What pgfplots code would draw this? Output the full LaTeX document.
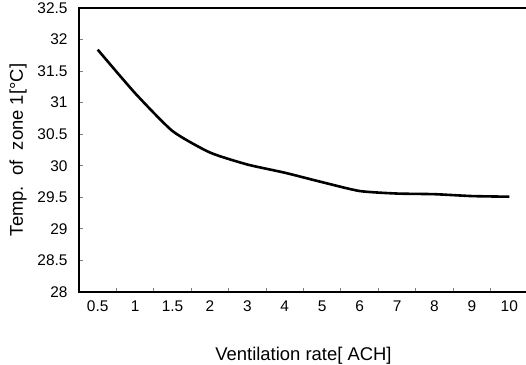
\documentclass[border=0pt]{standalone}
\usepackage{fontspec}
\setmainfont{Liberation Sans}
\usepackage{pgfplots}
\pgfplotsset{compat=1.18}
\begin{document}
\begin{tikzpicture}
\begin{axis}[
  name=ax,
  scale only axis,
  width=449bp, height=284bp,
  xmin=-0.5, xmax=11.5,
  ymin=28, ymax=32.5,
  axis line style={line width=1.4bp},
  tick align=inside,
  tick pos=left,
  xtick={0,...,11},
  xticklabels={0.5,1,1.5,2,3,4,5,6,7,8,9,10},
  major x tick style={draw=none},
  minor xtick={0.5,1.5,...,10.5},
  minor tick length=4bp,
  minor x tick style={line width=1bp},
  ytick={28,28.5,...,32.5},
  yticklabels={28,28.5,29,29.5,30,30.5,31,31.5,32,32.5},
  major tick length=4bp,
  major y tick style={line width=1bp},
  ticklabel style={font=\fontsize{15.5}{17}\selectfont},
  yticklabel style={xshift=-8bp},
  xticklabel style={yshift=-5bp},
  xlabel={Ventilation rate[ ACH]},
  ylabel={Temp.\ \ of\ \ zone 1[°C]},
  every axis x label/.style={at={(axis description cs:0.5,0)}, anchor=center, yshift=-64bp, font=\fontsize{18.5}{21}\selectfont},
  every axis y label/.style={at={(axis description cs:0,0.5)}, anchor=center, xshift=-61bp, rotate=90, font=\fontsize{18.5}{21}\selectfont},
]
\addplot[black, line width=2.6bp, line join=round, smooth, tension=0.35] coordinates {
  (0,31.84) (1,31.15) (2,30.55) (3,30.21) (4,30.02) (5,29.89)
  (6,29.74) (7,29.6) (8,29.56) (9,29.55) (10,29.52) (11,29.51)
};
\end{axis}
\pgfresetboundingbox
\path (ax.south west) ++(-79bp,-73bp) rectangle ++(526bp,365bp);
\end{tikzpicture}
\end{document}
